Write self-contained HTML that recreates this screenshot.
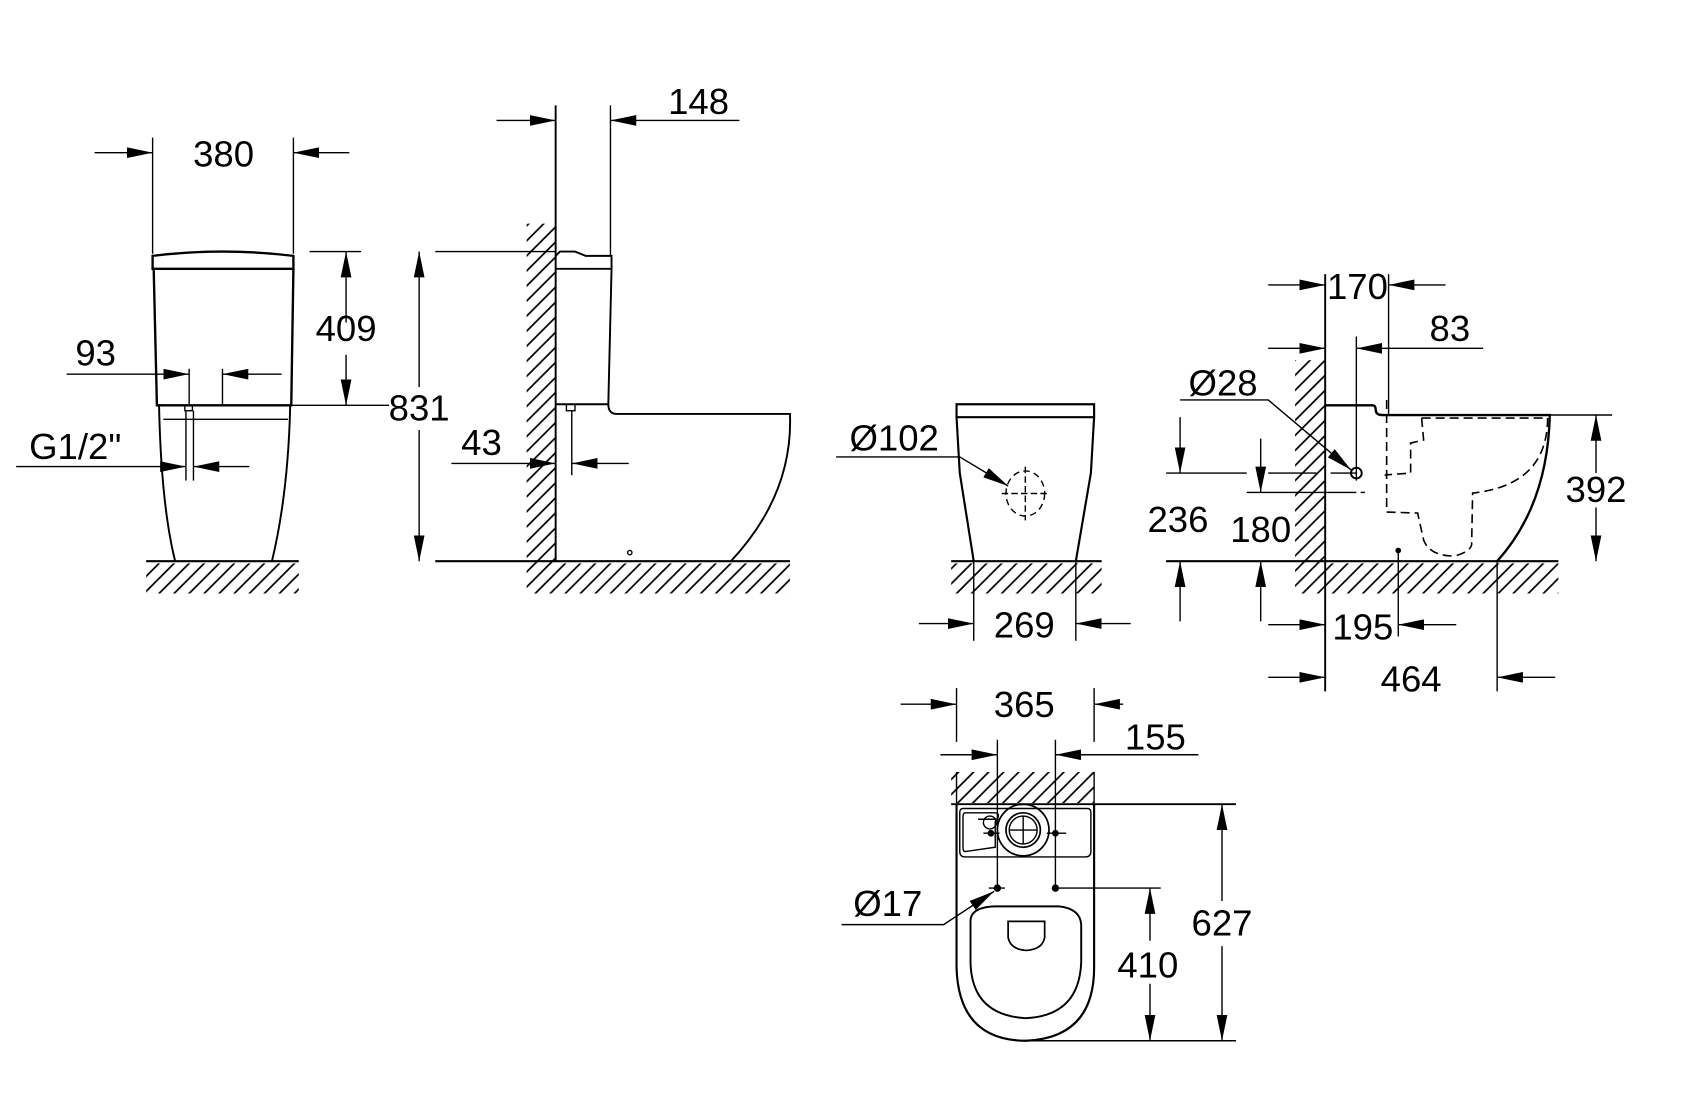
<!DOCTYPE html>
<html><head><meta charset="utf-8"><style>
html,body{margin:0;padding:0;background:#fff}
svg{display:block}
text{font-family:"Liberation Sans",sans-serif;font-size:34px;fill:#000;text-anchor:middle}
</style></head><body>
<svg width="1682" height="1116" viewBox="0 0 1565 1038" preserveAspectRatio="none" xmlns="http://www.w3.org/2000/svg">
<defs>
<marker id="a" viewBox="0 0 24 10" refX="24" refY="5" markerWidth="24" markerHeight="10" markerUnits="userSpaceOnUse" orient="auto"><path d="M0,0L24,5L0,10z" fill="#000"/></marker>
<pattern id="h" width="14" height="14" patternUnits="userSpaceOnUse"><path d="M-2,16L16,-2M-2,2L2,-2M12,16L16,12" stroke="#000" stroke-width="1.6"/></pattern>
</defs>
<g fill="none" stroke="#000" stroke-width="1.3">
<!-- hatches -->
<rect x="136" y="524" width="142" height="28" fill="url(#h)" stroke="none"/>
<rect x="490" y="208" width="27" height="344" fill="url(#h)" stroke="none"/>
<rect x="517" y="524" width="218" height="28" fill="url(#h)" stroke="none"/>
<rect x="885" y="524" width="140" height="28" fill="url(#h)" stroke="none"/>
<rect x="1205" y="335" width="28" height="217" fill="url(#h)" stroke="none"/>
<rect x="1233" y="524" width="217" height="28" fill="url(#h)" stroke="none"/>
<rect x="885" y="718" width="133" height="29" fill="url(#h)" stroke="none"/>

<!-- VIEW 1 -->
<line x1="142" y1="128" x2="142" y2="236"/><line x1="273" y1="128" x2="273" y2="236"/>
<line x1="88" y1="142" x2="142" y2="142" marker-end="url(#a)"/>
<line x1="325" y1="142" x2="273" y2="142" marker-end="url(#a)"/>
<path d="M142,238 Q207,230 273,238 L273,250 L142,250 Z" stroke-width="2.2"/>
<path d="M143,250 L146,377 L271,377 L273,250" stroke-width="2.2"/>
<line x1="271" y1="377" x2="362" y2="377"/>
<line x1="288" y1="234" x2="336" y2="234"/>
<line x1="322" y1="300" x2="322" y2="234" marker-end="url(#a)"/>
<line x1="322" y1="330" x2="322" y2="377" marker-end="url(#a)"/>
<line x1="176" y1="343" x2="176" y2="377"/><line x1="207" y1="343" x2="207" y2="377"/>
<line x1="62" y1="348" x2="176" y2="348" marker-end="url(#a)"/>
<line x1="262" y1="348" x2="207" y2="348" marker-end="url(#a)"/>
<line x1="152" y1="390" x2="268" y2="390"/>
<path d="M148,378 Q150,470 163,522" stroke-width="1.8"/>
<path d="M270,378 Q268,460 253,522" stroke-width="1.8"/>
<rect x="172" y="377" width="7" height="5"/>
<line x1="173" y1="382" x2="173" y2="447"/><line x1="180" y1="382" x2="180" y2="447"/>
<line x1="15" y1="434" x2="173" y2="434" marker-end="url(#a)"/>
<line x1="232" y1="434" x2="180" y2="434" marker-end="url(#a)"/>
<line x1="136" y1="522" x2="278" y2="522" stroke-width="2"/>

<!-- VIEW 2 -->
<line x1="517" y1="98" x2="517" y2="522" stroke-width="1.8"/>
<line x1="568" y1="98" x2="568" y2="238"/>
<line x1="462" y1="112" x2="517" y2="112" marker-end="url(#a)"/>
<line x1="688" y1="112" x2="568" y2="112" marker-end="url(#a)"/>
<path d="M517,238 L521,234 L535,234 L545,238 L569,238 L569,250 L517,250" stroke-width="1.8"/>
<path d="M569,250 L566,376 Q566,385 574,385 L735,385 Q738,460 680,522" stroke-width="1.8"/>
<line x1="517" y1="376" x2="566" y2="376" stroke-width="1.8"/>
<rect x="527" y="376" width="8" height="6"/>
<line x1="532" y1="382" x2="532" y2="442"/>
<line x1="420" y1="431" x2="517" y2="431" marker-end="url(#a)"/>
<line x1="585" y1="431" x2="532" y2="431" marker-end="url(#a)"/>
<line x1="405" y1="234" x2="517" y2="234"/>
<line x1="390" y1="360" x2="390" y2="234" marker-end="url(#a)"/>
<line x1="390" y1="400" x2="390" y2="522" marker-end="url(#a)"/>
<line x1="405" y1="522" x2="735" y2="522" stroke-width="2"/>
<circle cx="586" cy="514" r="2"/>

<!-- VIEW 3 -->
<path d="M890,376 L1018,376 L1018,388 L890,388 Z" stroke-width="2"/>
<path d="M890,388 L893,440 L906,522" stroke-width="2"/>
<path d="M1018,388 L1015,440 L1001,522" stroke-width="2"/>
<line x1="885" y1="522" x2="1025" y2="522" stroke-width="2"/>
<line x1="906" y1="522" x2="906" y2="596"/><line x1="1001" y1="522" x2="1001" y2="596"/>
<line x1="855" y1="580" x2="906" y2="580" marker-end="url(#a)"/>
<line x1="1052" y1="580" x2="1001" y2="580" marker-end="url(#a)"/>
<polyline points="778,425 893,425 938,452" marker-end="url(#a)"/>
<ellipse cx="954" cy="459" rx="18" ry="21" stroke-dasharray="6,4"/>
<line x1="932" y1="459" x2="977" y2="459" stroke-dasharray="6,3"/>
<line x1="954" y1="434" x2="954" y2="484" stroke-dasharray="6,3"/>

<!-- VIEW 4 -->
<line x1="1233" y1="255" x2="1233" y2="643" stroke-width="1.8"/>
<line x1="1292" y1="255" x2="1292" y2="385"/>
<line x1="1180" y1="265" x2="1233" y2="265" marker-end="url(#a)"/>
<line x1="1345" y1="265" x2="1292" y2="265" marker-end="url(#a)"/>
<line x1="1262" y1="313" x2="1262" y2="447"/>
<line x1="1180" y1="324" x2="1233" y2="324" marker-end="url(#a)"/>
<line x1="1380" y1="324" x2="1262" y2="324" marker-end="url(#a)"/>
<path d="M1233,377 L1277,377 Q1280,377 1280,381 Q1280,386 1286,386 L1442,386 Q1440,470 1393,522" stroke-width="2.2"/>
<line x1="1085" y1="522" x2="1450" y2="522" stroke-width="2"/>
<line x1="1442" y1="386" x2="1500" y2="386"/>
<line x1="1485" y1="440" x2="1485" y2="386" marker-end="url(#a)"/>
<line x1="1485" y1="472" x2="1485" y2="522" marker-end="url(#a)"/>
<line x1="1085" y1="440" x2="1160" y2="440"/><line x1="1180" y1="440" x2="1225" y2="440"/><line x1="1238" y1="440" x2="1262" y2="440"/>
<line x1="1098" y1="388" x2="1098" y2="440" marker-end="url(#a)"/>
<line x1="1098" y1="578" x2="1098" y2="522" marker-end="url(#a)"/>
<line x1="1160" y1="458" x2="1262" y2="458"/><line x1="1266" y1="458" x2="1270" y2="458"/>
<line x1="1173" y1="408" x2="1173" y2="458" marker-end="url(#a)"/>
<line x1="1173" y1="578" x2="1173" y2="522" marker-end="url(#a)"/>
<polyline points="1098,372 1180,372 1257,437" marker-end="url(#a)"/>
<circle cx="1262" cy="440" r="5" stroke-width="1.8"/>
<line x1="1301" y1="512" x2="1301" y2="592"/><circle cx="1301" cy="512" r="2" fill="#000"/>
<line x1="1180" y1="581" x2="1233" y2="581" marker-end="url(#a)"/>
<line x1="1355" y1="581" x2="1301" y2="581" marker-end="url(#a)"/>
<line x1="1393" y1="522" x2="1393" y2="643"/>
<line x1="1180" y1="630" x2="1233" y2="630" marker-end="url(#a)"/>
<line x1="1447" y1="630" x2="1393" y2="630" marker-end="url(#a)"/>
<g transform="scale(0.9302)" stroke-dasharray="9,5" stroke-width="1.6">
<path d="M1422,418 L1548,418 Q1548,485 1473,493 L1472,545"/>
<path d="M1422,418 L1424,440 L1411,443 L1411,473 L1385,475"/>
<path d="M1387,512 L1418,513 L1424,540 Q1430,556 1455,556 Q1470,552 1472,545"/>
<line x1="1387" y1="400" x2="1387" y2="512"/>
</g>

<!-- VIEW 5 -->
<line x1="890" y1="640" x2="890" y2="690"/><line x1="1018" y1="640" x2="1018" y2="690"/>
<line x1="838" y1="655" x2="890" y2="655" marker-end="url(#a)"/>
<line x1="1045" y1="655" x2="1018" y2="655" marker-end="url(#a)"/>
<line x1="928" y1="688" x2="928" y2="826"/><line x1="982" y1="688" x2="982" y2="826"/>
<line x1="875" y1="702" x2="928" y2="702" marker-end="url(#a)"/>
<line x1="1115" y1="702" x2="982" y2="702" marker-end="url(#a)"/>
<line x1="890" y1="718" x2="890" y2="747"/><line x1="1018" y1="718" x2="1018" y2="747"/>
<line x1="885" y1="748" x2="1150" y2="748" stroke-width="1.8"/>
<path d="M890,748 L890,900 Q892,968 955,968 Q1018,965 1018,900 L1018,748" stroke-width="2"/>
<path d="M896,752 L1012,752 Q1015,752 1015,756 L1015,792 Q1015,797 1010,797 L898,797 Q893,797 893,792 L893,756 Q893,752 896,752 Z"/>
<path d="M898,756 L926,756 Q932,757 926,764 L926,788 L898,792 Q896,792 896,788 L896,760 Q896,756 898,756"/>
<circle cx="952" cy="772" r="24" stroke-width="1.6"/>
<circle cx="952" cy="772" r="16" stroke-width="1.6"/>
<circle cx="952" cy="772" r="13"/>
<line x1="939" y1="772" x2="965" y2="772"/><line x1="952" y1="759" x2="952" y2="785"/>
<circle cx="921" cy="765" r="6"/><line x1="910" y1="762" x2="930" y2="762"/>
<circle cx="922" cy="775" r="2.5" fill="#000"/><line x1="915" y1="775" x2="930" y2="775"/>
<circle cx="982" cy="775" r="2.5" fill="#000"/><line x1="974" y1="775" x2="992" y2="775"/>
<circle cx="928" cy="826" r="2.8" fill="#000"/><line x1="920" y1="826" x2="935" y2="826"/>
<circle cx="982" cy="826" r="2.8" fill="#000"/><line x1="982" y1="826" x="0" x2="1080" y2="826"/>
<path d="M903,858 Q902,844 925,843 L985,843 Q1005,845 1006,860 L1006,895 Q1004,945 954,947 Q904,944 903,895 Z" stroke-width="1.8"/>
<path d="M938,857 L972,857 L972,872 Q970,883 955,884 Q940,883 938,872 Z" stroke-width="1.6"/>
<polyline points="783,860 878,860 925,829" marker-end="url(#a)"/>
<line x1="955" y1="968" x2="1150" y2="968"/>
<line x1="1070" y1="875" x2="1070" y2="826" marker-end="url(#a)"/>
<line x1="1070" y1="915" x2="1070" y2="968" marker-end="url(#a)"/>
<line x1="1137" y1="838" x2="1137" y2="748" marker-end="url(#a)"/>
<line x1="1137" y1="880" x2="1137" y2="968" marker-end="url(#a)"/>
</g>
<g>
<text x="208" y="155">380</text>
<text x="322" y="317">409</text>
<text x="89" y="340">93</text>
<text x="70" y="427">G1/2"</text>
<text x="650" y="106">148</text>
<text x="390" y="391">831</text>
<text x="448" y="423">43</text>
<text x="832" y="419">Ø102</text>
<text x="953" y="593">269</text>
<text x="1263" y="278">170</text>
<text x="1349" y="317">83</text>
<text x="1138" y="368">Ø28</text>
<text x="1485" y="467">392</text>
<text x="1096" y="495">236</text>
<text x="1173" y="504">180</text>
<text x="1268" y="595">195</text>
<text x="1313" y="643">464</text>
<text x="953" y="667">365</text>
<text x="1075" y="697">155</text>
<text x="826" y="852">Ø17</text>
<text x="1068" y="909">410</text>
<text x="1137" y="870">627</text>
</g>
</svg>
</body></html>
